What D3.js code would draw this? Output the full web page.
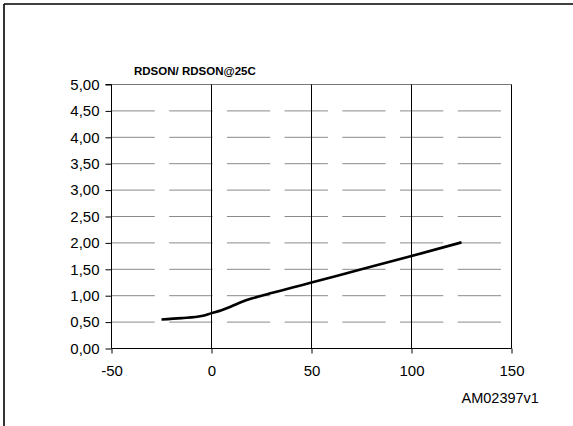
<!DOCTYPE html>
<html><head><meta charset="utf-8">
<script src="https://cdn.jsdelivr.net/npm/d3@7"></script>
<style>
html,body{margin:0;padding:0;background:#fff;}
svg{display:block;}
text{font-family:"Liberation Sans",Arial,sans-serif;fill:#000;}
</style></head>
<body>
<svg id="c" width="573" height="426"></svg>
<script>
const temperature = [-25, -15, -5, 0, 5, 10, 15, 20, 25, 30, 40, 50, 75, 100, 125];
const ratio = [0.55, 0.575, 0.615, 0.67, 0.725, 0.80, 0.88, 0.945, 1.00, 1.05, 1.15, 1.25, 1.50, 1.75, 2.01];
const xTicks = [-50, 0, 50, 100, 150];
const yTicks = [0, 0.5, 1, 1.5, 2, 2.5, 3, 3.5, 4, 4.5, 5];
const title = "RDSON/ RDSON@25C";
const code = "AM02397v1";

const svg = d3.select("#c");
const x = d3.scaleLinear().domain([-50, 150]).range([111.5, 511.5]);
const y = d3.scaleLinear().domain([0, 5]).range([348.5, 84.5]);

// outer frame (top and left only)
svg.append("line").attr("x1", 4).attr("x2", 573).attr("y1", 4).attr("y2", 4).attr("stroke", "#000").attr("stroke-width", 1.6);
svg.append("line").attr("x1", 4).attr("x2", 4).attr("y1", 4).attr("y2", 426).attr("stroke", "#000").attr("stroke-width", 1.6);

// horizontal dashed gridlines
svg.append("g").selectAll("line").data(yTicks.filter(d => d > 0 && d < 5)).join("line")
  .attr("x1", x(-50)).attr("x2", x(150))
  .attr("y1", d => y(d)).attr("y2", d => y(d))
  .attr("stroke", "#8a8a8a").attr("stroke-width", 1)
  .attr("stroke-dasharray", "43.3 14.4");
// top line
svg.append("line").attr("x1", x(-50)).attr("x2", x(150)).attr("y1", y(5)).attr("y2", y(5))
  .attr("stroke", "#777").attr("stroke-width", 1.2);

// vertical gridlines
svg.append("g").selectAll("line").data(xTicks.filter(d => d > -50)).join("line")
  .attr("x1", d => x(d)).attr("x2", d => x(d))
  .attr("y1", y(5)).attr("y2", y(0))
  .attr("stroke", "#000").attr("stroke-width", 1);

// axes
const yAxis = d3.axisLeft(y).tickValues(yTicks).tickSize(6).tickPadding(6)
  .tickFormat(d => d3.format(".2f")(d).replace(".", ","));
const gy = svg.append("g").attr("transform", `translate(${x(-50)},0)`).call(yAxis);
gy.select(".domain").attr("stroke", "#000").attr("d", `M-6,${y(5)}H0V${y(0)}`);
gy.selectAll("text").style("font-size", "15px").style("font-family", '"Liberation Sans",Arial,sans-serif');

const xAxis = d3.axisBottom(x).tickValues(xTicks).tickSize(5).tickPadding(12).tickFormat(d => String(d));
const gx = svg.append("g").attr("transform", `translate(0,${y(0)})`).call(xAxis);
gx.select(".domain").attr("stroke", "#000").attr("d", `M${x(-50)},0H${x(150)}`);
gx.selectAll("text").style("font-size", "15px").style("font-family", '"Liberation Sans",Arial,sans-serif');

// curve
const line = d3.line().x((d, i) => x(temperature[i])).y(d => y(d)).curve(d3.curveMonotoneX);
svg.append("path").datum(ratio).attr("d", line)
  .attr("fill", "none").attr("stroke", "#000").attr("stroke-width", 2.6).attr("stroke-linecap", "butt");

// title
svg.append("text").attr("x", 134).attr("y", 75).style("font-size", "11.5px").style("font-weight", "bold").text(title);
// code
svg.append("text").attr("x", 461.5).attr("y", 402.5).style("font-size", "14.5px").text(code);
</script>
</body></html>
